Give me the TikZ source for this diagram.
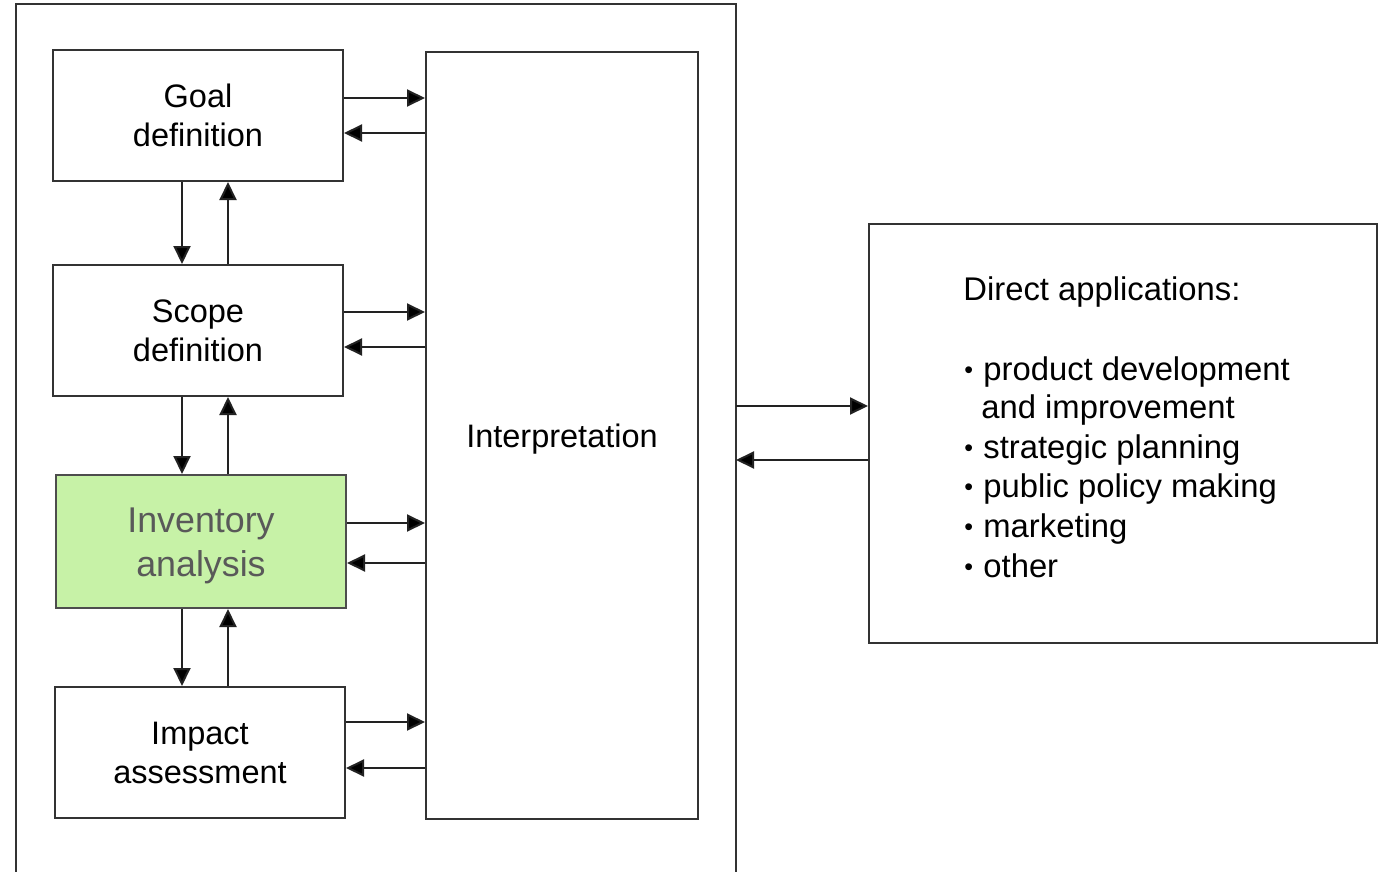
\documentclass[tikz,border=0pt]{standalone}
\usepackage{fontspec}
\setmainfont{Liberation Sans}
\usetikzlibrary{arrows.meta,calc}
\definecolor{linegray}{HTML}{333333}
\definecolor{arrowgray}{HTML}{222222}
\definecolor{invfill}{HTML}{C7F2A7}
\definecolor{invtext}{HTML}{595959}
\definecolor{invline}{HTML}{4D4D4D}
% small bullet followed by a fixed gap
\newcommand{\appbullet}{\makebox[9.5pt][l]{\raisebox{0.6pt}{\fontsize{12.5}{12.5}\selectfont •}}}
\begin{document}
\begin{tikzpicture}[x=0.5pt,y=-0.5pt,
  stage/.style={draw=linegray, line width=1pt, inner sep=0pt, align=center,
    minimum width=145pt, minimum height=65.5pt,
    font=\fontsize{16.25}{19.5}\selectfont},
  tall/.style={draw=linegray, line width=1pt, inner sep=0pt, align=center,
    font=\fontsize{16.25}{19.5}\selectfont},
  appline/.style={anchor=base west, inner sep=0pt, font=\fontsize{16.4}{19.7}\selectfont},
  arr/.style={draw=arrowgray, line width=1pt,
    -{Triangle[length=9pt,width=8.5pt,fill=black]}}]
\useasboundingbox (0,0) rectangle (1386,872);

% outer frame, open at the bottom
\coordinate (fBL) at (16,872);
\coordinate (fTL) at (16,4);
\coordinate (fTR) at (736,4);
\coordinate (fBR) at (736,872);
\draw[linegray, line width=1pt] (fBL) -- (fTL) -- (fTR) -- (fBR);

% phase boxes
\node[stage] (goal)  at (198,115.5) {Goal\\definition};
\node[stage] (scope) at (198,330.5) {Scope\\definition};
\node[stage, draw=invline, fill=invfill, minimum height=66.5pt] (inv) at (201,541.5) {};
\node[inner sep=0pt, align=center, text=invtext,
  font=\fontsize{17.9}{22}\selectfont] (invlabel) at ($(inv.center)+(0,4)$) {Inventory\\analysis};
\node[stage] (impact) at (200,752.5) {Impact\\assessment};
\node[tall, minimum width=136pt, minimum height=383.5pt, text depth=0pt] (interp) at (562,435.5) {Interpretation};
\node[draw=linegray, line width=1pt, minimum width=254pt, minimum height=209.5pt, inner sep=0pt] (direct) at (1123,433.5) {};

% direct applications list
\node[appline] (da0) at (963,300) {Direct applications:};
\node[appline] (da1) at (964,380) {\appbullet product development};
\node[appline] (da2) at (981,418) {and improvement};
\node[appline] (da3) at (964,458) {\appbullet strategic planning};
\node[appline] (da4) at (964,497) {\appbullet public policy making};
\node[appline] (da5) at (964,537) {\appbullet marketing};
\node[appline] (da6) at (964,577) {\appbullet other};

% guide coordinates for connector rows and columns
\coordinate (cDown) at (182,0);
\coordinate (cUp)   at (228,0);
\coordinate (g1) at (0,98);  \coordinate (g2) at (0,133);
\coordinate (s1) at (0,312); \coordinate (s2) at (0,347);
\coordinate (i1) at (0,523); \coordinate (i2) at (0,563);
\coordinate (m1) at (0,722); \coordinate (m2) at (0,768);
\coordinate (d1) at (0,406); \coordinate (d2) at (0,460);

% phases <-> interpretation
\draw[arr] (goal.east |- g1) -- (interp.west |- g1);
\draw[arr] (interp.west |- g2) -- (goal.east |- g2);
\draw[arr] (scope.east |- s1) -- (interp.west |- s1);
\draw[arr] (interp.west |- s2) -- (scope.east |- s2);
\draw[arr] (inv.east |- i1) -- (interp.west |- i1);
\draw[arr] (interp.west |- i2) -- (inv.east |- i2);
\draw[arr] (impact.east |- m1) -- (interp.west |- m1);
\draw[arr] (interp.west |- m2) -- (impact.east |- m2);

% phase to phase
\draw[arr] (goal.south -| cDown) -- (scope.north -| cDown);
\draw[arr] (scope.north -| cUp) -- (goal.south -| cUp);
\draw[arr] (scope.south -| cDown) -- (inv.north -| cDown);
\draw[arr] (inv.north -| cUp) -- (scope.south -| cUp);
\draw[arr] (inv.south -| cDown) -- (impact.north -| cDown);
\draw[arr] (impact.north -| cUp) -- (inv.south -| cUp);

% framework <-> direct applications
\draw[arr] (fTR |- d1) -- (direct.west |- d1);
\draw[arr] (direct.west |- d2) -- (fTR |- d2);
\end{tikzpicture}
\end{document}
